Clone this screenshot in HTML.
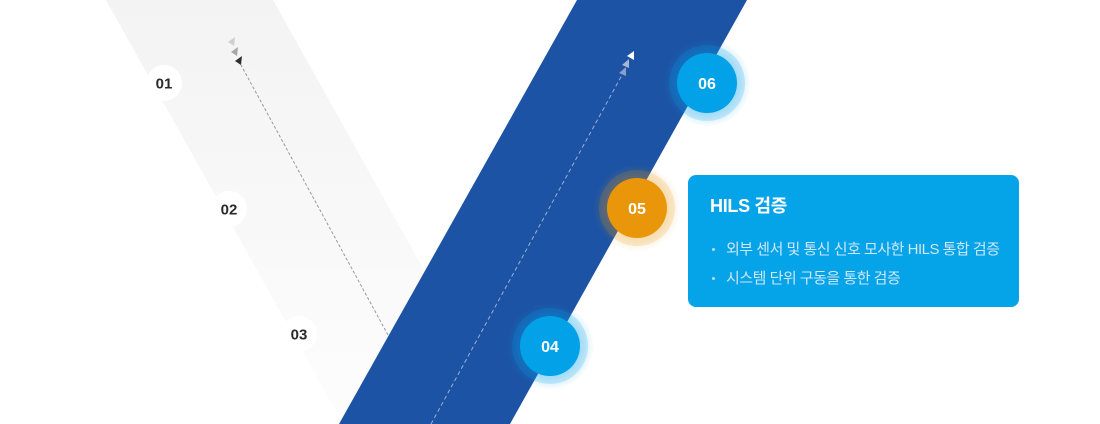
<!DOCTYPE html>
<html>
<head>
<meta charset="utf-8">
<style>
html,body{margin:0;padding:0;background:#fff;}
body{width:1100px;height:424px;overflow:hidden;position:relative;font-family:"Liberation Sans","Noto Sans CJK KR",sans-serif;}
svg{position:absolute;left:0;top:0;}
.box{position:absolute;left:688px;top:175px;width:331px;height:132px;background:#05a3e8;border-radius:8px;color:#fff;box-sizing:border-box;}
.box h3{margin:0;position:absolute;left:22px;top:19px;font-size:18px;font-weight:bold;letter-spacing:-0.3px;line-height:24px;font-family:"Liberation Sans","Noto Sans CJK KR",sans-serif;}
.box ul{margin:0;padding:0;list-style:none;position:absolute;left:22px;top:60px;}
.box li{position:relative;padding-left:16px;font-size:15px;line-height:29px;color:#cfe7f7;letter-spacing:-0.5px;white-space:nowrap;font-family:"Liberation Sans","Noto Sans CJK KR",sans-serif;}
.box li:before{content:"";position:absolute;left:2px;top:13px;width:3px;height:3px;border-radius:50%;background:#b8ddf4;}
</style>
</head>
<body>
<svg width="1100" height="424" viewBox="0 0 1100 424" xmlns="http://www.w3.org/2000/svg">
  <defs>
    <linearGradient id="gg" x1="0" y1="0" x2="0" y2="1">
      <stop offset="0" stop-color="#f3f3f3"/>
      <stop offset="1" stop-color="#fdfdfd"/>
    </linearGradient>
    <radialGradient id="glowB" cx="0.5" cy="0.5" r="0.5">
      <stop offset="0.6" stop-color="#03a1e7" stop-opacity="0.3"/>
      <stop offset="1" stop-color="#03a1e7" stop-opacity="0"/>
    </radialGradient>
    <radialGradient id="glowO" cx="0.5" cy="0.5" r="0.5">
      <stop offset="0.6" stop-color="#e9960a" stop-opacity="0.25"/>
      <stop offset="1" stop-color="#e9960a" stop-opacity="0"/>
    </radialGradient>
  </defs>

  <!-- gray band -->
  <polygon points="106,0 273,0 510,424 343,424" fill="url(#gg)"/>

  <!-- gray dashed line -->
  <line x1="388" y1="335" x2="241" y2="65" stroke="#9a9a9a" stroke-width="1" stroke-dasharray="3 2"/>
  <polygon points="228,42 235,37 234,46" fill="#d0d0d0"/>
  <polygon points="231,52 238,47 237,56" fill="#a6a6a6"/>
  <polygon points="235,61 242,56 241,65" fill="#2e2e2e"/>

  <!-- white circles 01-03 -->
  <circle cx="164" cy="83" r="18" fill="#fff"/>
  <circle cx="229" cy="209" r="18" fill="#fff"/>
  <circle cx="299" cy="334" r="18" fill="#fff"/>
  <g font-family="Liberation Sans, sans-serif" font-weight="bold" font-size="15" fill="#2a2a2a" text-anchor="middle">
    <text x="164" y="88.5">01</text>
    <text x="229" y="214.5">02</text>
    <text x="299" y="339.5">03</text>
  </g>

  <!-- blue band -->
  <polygon points="577,0 747,0 510,424 339,424" fill="#1c53a4"/>

  <!-- blue dashed line -->
  <line x1="431" y1="424" x2="622" y2="75" stroke="#b9c6e4" stroke-opacity="0.8" stroke-width="1" stroke-dasharray="4 3"/>
  <polygon points="619,73 626,67 626,76" fill="#8b9dca"/>
  <polygon points="622,65 629,59 629,68" fill="#aab5d6"/>
  <polygon points="627,56 634,51 634,60" fill="#ffffff"/>

  <!-- circle 06 -->
  <circle cx="707" cy="83" r="44" fill="url(#glowB)"/>
  <circle cx="707" cy="83" r="38" fill="#03a1e7" fill-opacity="0.18"/>
  <circle cx="707" cy="83" r="30" fill="#03a1e7"/>
  <!-- circle 05 -->
  <circle cx="637" cy="208" r="44" fill="url(#glowO)"/>
  <circle cx="637" cy="208" r="38" fill="#e9960a" fill-opacity="0.16"/>
  <circle cx="637" cy="208" r="30" fill="#e9960a"/>
  <!-- circle 04 -->
  <circle cx="550" cy="346" r="44" fill="url(#glowB)"/>
  <circle cx="550" cy="346" r="38" fill="#03a1e7" fill-opacity="0.18"/>
  <circle cx="550" cy="346" r="30" fill="#03a1e7"/>

  <g font-family="Liberation Sans, sans-serif" font-weight="bold" font-size="16" fill="#fff" text-anchor="middle">
    <text x="707" y="89">06</text>
    <text x="637" y="214">05</text>
    <text x="550" y="352">04</text>
  </g>
</svg>

<div class="box">
  <h3>HILS 검증</h3>
  <ul>
    <li>외부 센서 및 통신 신호 모사한 HILS 통합 검증</li>
    <li>시스템 단위 구동을 통한 검증</li>
  </ul>
</div>
</body>
</html>
